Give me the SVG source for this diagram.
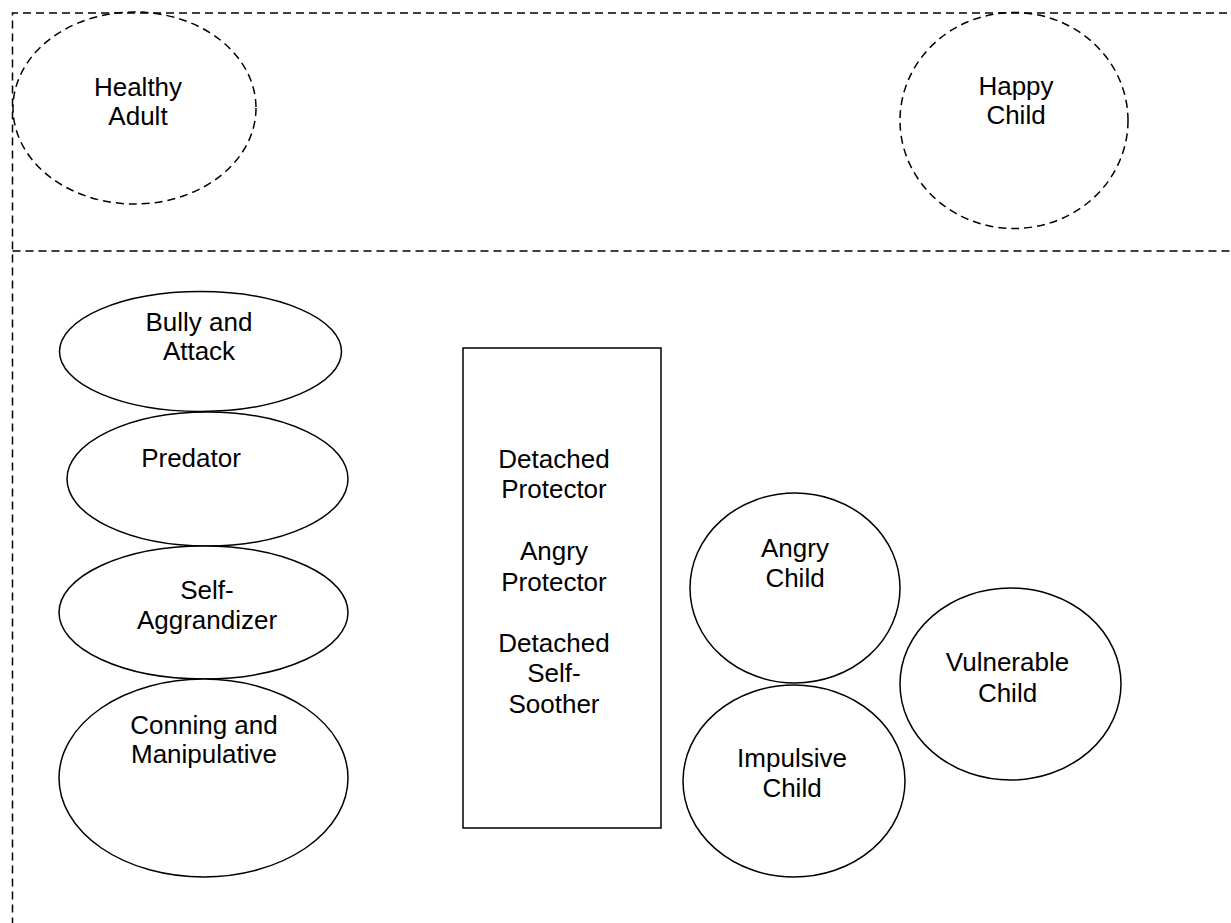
<svg xmlns="http://www.w3.org/2000/svg" width="1231" height="923" viewBox="0 0 1231 923">
<style>
.bg{fill:#fff}
.dash{fill:none;stroke:#000;stroke-width:1.5;stroke-dasharray:8 5}
.solid{fill:#fff;stroke:#000;stroke-width:1.5}
text{font-family:"Liberation Sans",Arial,sans-serif;font-size:26px;fill:#000;text-anchor:middle}
</style>
<rect class="bg" x="0" y="0" width="1231" height="923"/>
<g id="regions">
<path class="dash" d="M1240,13 H12.5 V940"/>
<path class="dash" d="M12.5,251 H1240"/>
</g>
<g id="healthy-adult">
<ellipse class="dash" cx="134.5" cy="108" rx="121.5" ry="96"/>
<text x="138" y="96">Healthy</text>
<text x="138" y="125">Adult</text>
</g>
<g id="happy-child">
<ellipse class="dash" cx="1014" cy="120.5" rx="114" ry="108"/>
<text x="1016" y="95">Happy</text>
<text x="1016" y="124">Child</text>
</g>
<g id="bully-attack">
<ellipse class="solid" cx="200.5" cy="351.5" rx="141" ry="60"/>
<text x="199" y="331">Bully and</text>
<text x="199" y="360">Attack</text>
</g>
<g id="predator">
<ellipse class="solid" cx="207.5" cy="479" rx="140.5" ry="67"/>
<text x="191" y="467">Predator</text>
</g>
<g id="self-aggrandizer">
<ellipse class="solid" cx="203.5" cy="612.5" rx="144.5" ry="66.5"/>
<text x="207" y="599">Self-</text>
<text x="207" y="629">Aggrandizer</text>
</g>
<g id="conning-manipulative">
<ellipse class="solid" cx="203.5" cy="778" rx="144.5" ry="99"/>
<text x="204" y="734">Conning and</text>
<text x="204" y="763">Manipulative</text>
</g>
<g id="protectors">
<rect class="solid" x="463" y="348" width="198" height="480"/>
<text x="554" y="468">Detached</text>
<text x="554" y="498">Protector</text>
<text x="554" y="560">Angry</text>
<text x="554" y="591">Protector</text>
<text x="554" y="652">Detached</text>
<text x="554" y="682">Self-</text>
<text x="554" y="713">Soother</text>
</g>
<g id="angry-child">
<ellipse class="solid" cx="795" cy="588" rx="105" ry="95"/>
<text x="795" y="557">Angry</text>
<text x="795" y="587">Child</text>
</g>
<g id="impulsive-child">
<ellipse class="solid" cx="794" cy="781" rx="111" ry="96"/>
<text x="792" y="767">Impulsive</text>
<text x="792" y="797">Child</text>
</g>
<g id="vulnerable-child">
<ellipse class="solid" cx="1010.5" cy="684" rx="110.5" ry="96"/>
<text x="1007.5" y="671">Vulnerable</text>
<text x="1007.5" y="702">Child</text>
</g>
<g id="connectors"></g>
</svg>
